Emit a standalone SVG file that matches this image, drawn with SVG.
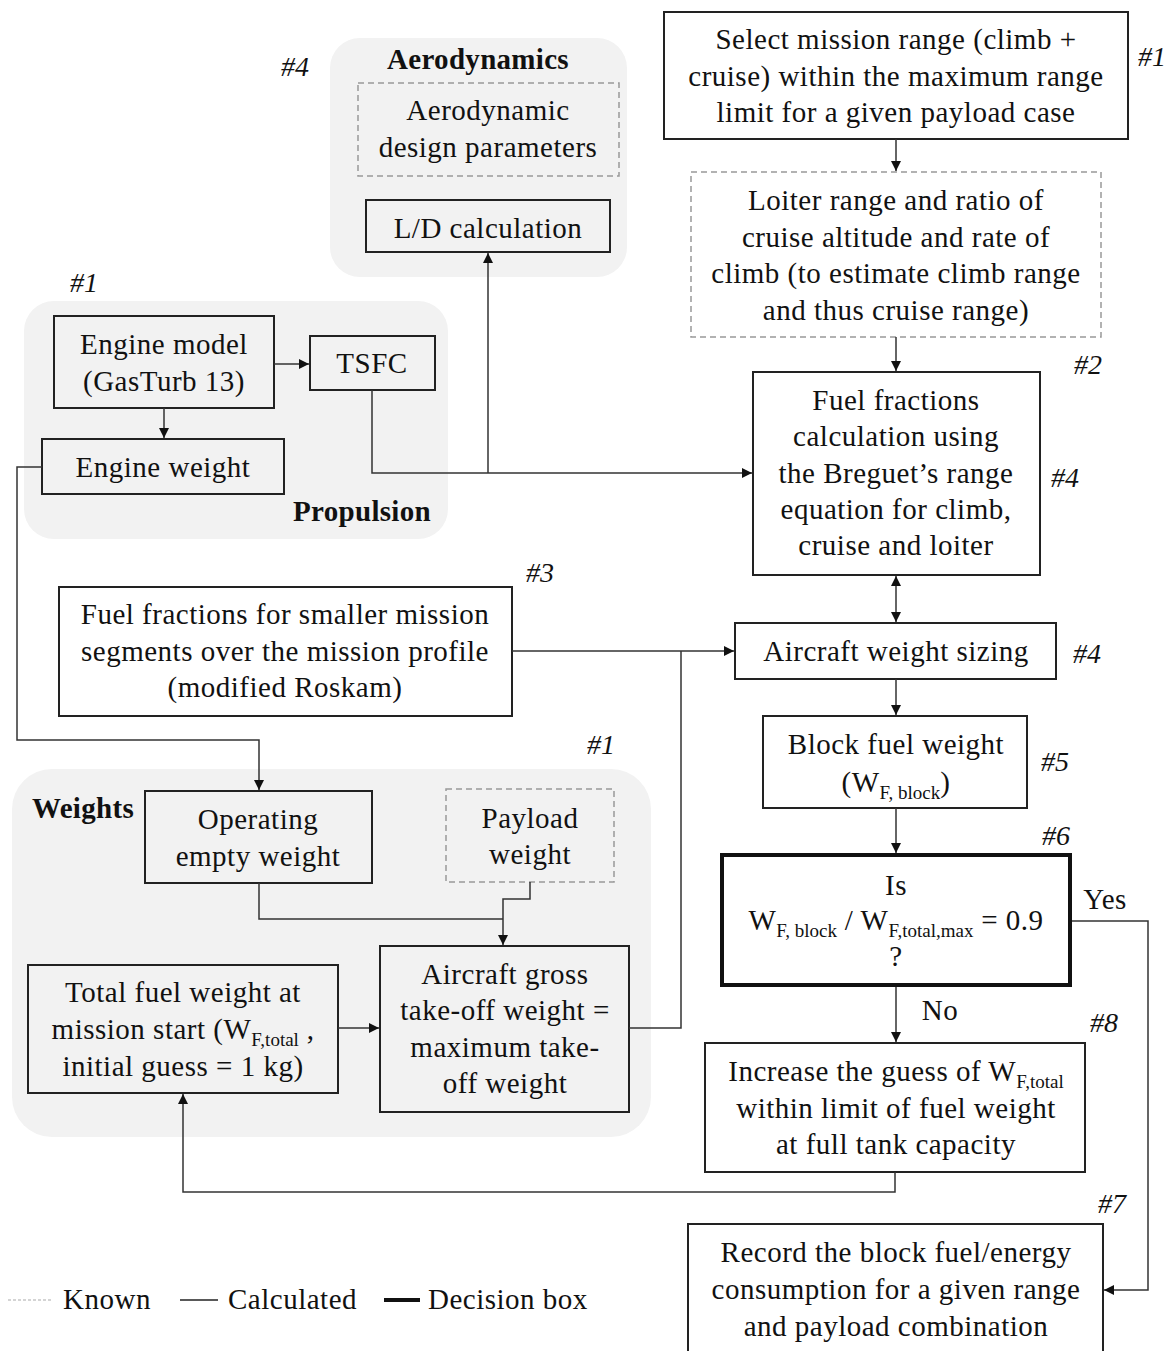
<svg xmlns="http://www.w3.org/2000/svg" width="1173" height="1351" viewBox="0 0 1173 1351">
<defs>
<style>
text{font-family:"Liberation Serif","Times New Roman",serif;font-size:29px;letter-spacing:0.5px;fill:#111;text-anchor:middle}
.b{font-weight:bold;letter-spacing:0.3px}
.i{font-style:italic;text-anchor:start;font-size:28px;letter-spacing:0}
.grp{fill:#f2f2f2;stroke:none}
.box{fill:none;stroke:#222;stroke-width:2}
.dash{fill:none;stroke:#999;stroke-width:1.5;stroke-dasharray:6,4}
.thick{fill:none;stroke:#111;stroke-width:4}
.ln{fill:none;stroke:#333;stroke-width:1.5}
.sub{font-size:19px;letter-spacing:0}
</style>
<marker id="ah" viewBox="0 0 10 10" refX="10" refY="5" markerWidth="10" markerHeight="10" markerUnits="userSpaceOnUse" orient="auto-start-reverse"><path d="M0,0 L10,5 L0,10 z" fill="#111"/></marker>
</defs>
<rect width="1173" height="1351" fill="#fff"/>

<g id="aerodynamics">
<rect class="grp" x="330" y="38" width="297" height="239" rx="30"/>
<text class="b" x="478" y="69">Aerodynamics</text>
<text class="i" x="281" y="76">#4</text>
</g>
<g id="propulsion">
<rect class="grp" x="24" y="301" width="424" height="238" rx="30"/>
<text class="b" x="362" y="521">Propulsion</text>
<text class="i" x="70" y="292">#1</text>
</g>
<g id="weights">
<rect class="grp" x="12" y="769" width="639" height="368" rx="40"/>
<text class="b" x="83" y="818">Weights</text>
<text class="i" x="587" y="754">#1</text>
</g>

<g id="aero-params">
<rect class="dash" x="358" y="83" width="261" height="93"/>
<text x="488" y="120">Aerodynamic</text>
<text x="488" y="157">design parameters</text>
</g>
<g id="ld">
<rect class="box" x="366" y="200" width="244" height="52"/>
<text x="488" y="238">L/D calculation</text>
</g>
<g id="engine-model">
<rect class="box" x="54" y="316" width="220" height="92"/>
<text x="164" y="354">Engine model</text>
<text x="164" y="391">(GasTurb 13)</text>
</g>
<g id="tsfc">
<rect class="box" x="310" y="336" width="125" height="54"/>
<text x="372" y="373">TSFC</text>
</g>
<g id="engine-weight">
<rect class="box" x="42" y="439" width="242" height="55"/>
<text x="163" y="477">Engine weight</text>
</g>

<g id="select-range">
<rect class="box" x="664" y="12" width="464" height="127"/>
<text x="896" y="49">Select mission range (climb +</text>
<text x="896" y="86">cruise) within the maximum range</text>
<text x="896" y="122">limit for a given payload case</text>
<text class="i" x="1138" y="66">#1</text>
</g>
<g id="loiter">
<rect class="dash" x="691" y="172" width="410" height="165"/>
<text x="896" y="210">Loiter range and ratio of</text>
<text x="896" y="247">cruise altitude and rate of</text>
<text x="896" y="283">climb (to estimate climb range</text>
<text x="896" y="320">and thus cruise range)</text>
</g>
<g id="fuel-fractions-calc">
<rect class="box" x="753" y="372" width="287" height="203"/>
<text x="896" y="410">Fuel fractions</text>
<text x="896" y="446">calculation using</text>
<text x="896" y="483">the Breguet’s range</text>
<text x="896" y="519">equation for climb,</text>
<text x="896" y="555">cruise and loiter</text>
<text class="i" x="1074" y="374">#2</text>
<text class="i" x="1051" y="487">#4</text>
</g>
<g id="fuel-fractions-small">
<rect class="box" x="59" y="587" width="453" height="129"/>
<text x="285" y="624">Fuel fractions for smaller mission</text>
<text x="285" y="661">segments over the mission profile</text>
<text x="285" y="697">(modified Roskam)</text>
<text class="i" x="526" y="582">#3</text>
</g>
<g id="weight-sizing">
<rect class="box" x="735" y="623" width="321" height="56"/>
<text x="896" y="661">Aircraft weight sizing</text>
<text class="i" x="1073" y="663">#4</text>
</g>
<g id="block-fuel">
<rect class="box" x="763" y="716" width="264" height="92"/>
<text x="896" y="754">Block fuel weight</text>
<text x="896" y="792">(W<tspan class="sub" dy="7">F, block</tspan><tspan dy="-7">)</tspan></text>
<text class="i" x="1041" y="771">#5</text>
</g>
<g id="decision">
<rect class="thick" x="722" y="855" width="348" height="130"/>
<text x="896" y="895">Is</text>
<text x="896" y="930">W<tspan class="sub" dy="7">F, block</tspan><tspan dy="-7"> / W</tspan><tspan class="sub" dy="7">F,total,max</tspan><tspan dy="-7"> = 0.9</tspan></text>
<text x="896" y="966">?</text>
<text class="i" x="1042" y="845">#6</text>
<text x="1105" y="909">Yes</text>
<text x="940" y="1020">No</text>
</g>
<g id="increase">
<rect class="box" x="705" y="1043" width="380" height="129"/>
<text x="896" y="1081">Increase the guess of W<tspan class="sub" dy="7">F,total</tspan></text>
<text x="896" y="1118">within limit of fuel weight</text>
<text x="896" y="1154">at full tank capacity</text>
<text class="i" x="1090" y="1032">#8</text>
</g>
<g id="record">
<rect class="box" x="688" y="1224" width="415" height="140"/>
<text x="896" y="1262">Record the block fuel/energy</text>
<text x="896" y="1299">consumption for a given range</text>
<text x="896" y="1336">and payload combination</text>
<text class="i" x="1098" y="1213">#7</text>
</g>
<g id="oew">
<rect class="box" x="145" y="791" width="227" height="92"/>
<text x="258" y="829">Operating</text>
<text x="258" y="866">empty weight</text>
</g>
<g id="payload">
<rect class="dash" x="446" y="789" width="168" height="93"/>
<text x="530" y="828">Payload</text>
<text x="530" y="864">weight</text>
</g>
<g id="agtow">
<rect class="box" x="380" y="946" width="249" height="166"/>
<text x="505" y="984">Aircraft gross</text>
<text x="505" y="1020">take-off weight =</text>
<text x="505" y="1057">maximum take-</text>
<text x="505" y="1093">off weight</text>
</g>
<g id="total-fuel">
<rect class="box" x="28" y="965" width="310" height="128"/>
<text x="183" y="1002">Total fuel weight at</text>
<text x="183" y="1039">mission start (W<tspan class="sub" dy="7">F,total</tspan><tspan dy="-7"> ,</tspan></text>
<text x="183" y="1076">initial guess = 1 kg)</text>
</g>

<g id="connectors">
<path class="ln" d="M274,364 H309" marker-end="url(#ah)"/>
<path class="ln" d="M164,408 V438" marker-end="url(#ah)"/>
<path class="ln" d="M372,390 V473 H752" marker-end="url(#ah)"/>
<path class="ln" d="M488,473 V253" marker-end="url(#ah)"/>
<path class="ln" d="M42,467 H17 V740 H259 V790" marker-end="url(#ah)"/>
<path class="ln" d="M896,139 V171" marker-end="url(#ah)"/>
<path class="ln" d="M896,337 V371" marker-end="url(#ah)"/>
<path class="ln" d="M896,576 V622" marker-start="url(#ah)" marker-end="url(#ah)"/>
<path class="ln" d="M512,651 H734" marker-end="url(#ah)"/>
<path class="ln" d="M629,1028 H681 V651"/>
<path class="ln" d="M896,679 V715" marker-end="url(#ah)"/>
<path class="ln" d="M896,808 V853" marker-end="url(#ah)"/>
<path class="ln" d="M896,987 V1042" marker-end="url(#ah)"/>
<path class="ln" d="M1072,921 H1148 V1290 H1104" marker-end="url(#ah)"/>
<path class="ln" d="M895,1172 V1192 H183 V1094" marker-end="url(#ah)"/>
<path class="ln" d="M259,883 V919 H503"/>
<path class="ln" d="M530,882 V899 H503 V945" marker-end="url(#ah)"/>
<path class="ln" d="M338,1028 H379" marker-end="url(#ah)"/>
</g>

<g id="legend">
<line x1="8" y1="1300" x2="52" y2="1300" stroke="#aaa" stroke-width="1.2" stroke-dasharray="3,2"/>
<text x="63" y="1309" style="text-anchor:start">Known</text>
<line x1="180" y1="1300" x2="218" y2="1300" stroke="#222" stroke-width="1.5"/>
<text x="228" y="1309" style="text-anchor:start">Calculated</text>
<line x1="384" y1="1300" x2="420" y2="1300" stroke="#111" stroke-width="4"/>
<text x="428" y="1309" style="text-anchor:start">Decision box</text>
</g>
</svg>
